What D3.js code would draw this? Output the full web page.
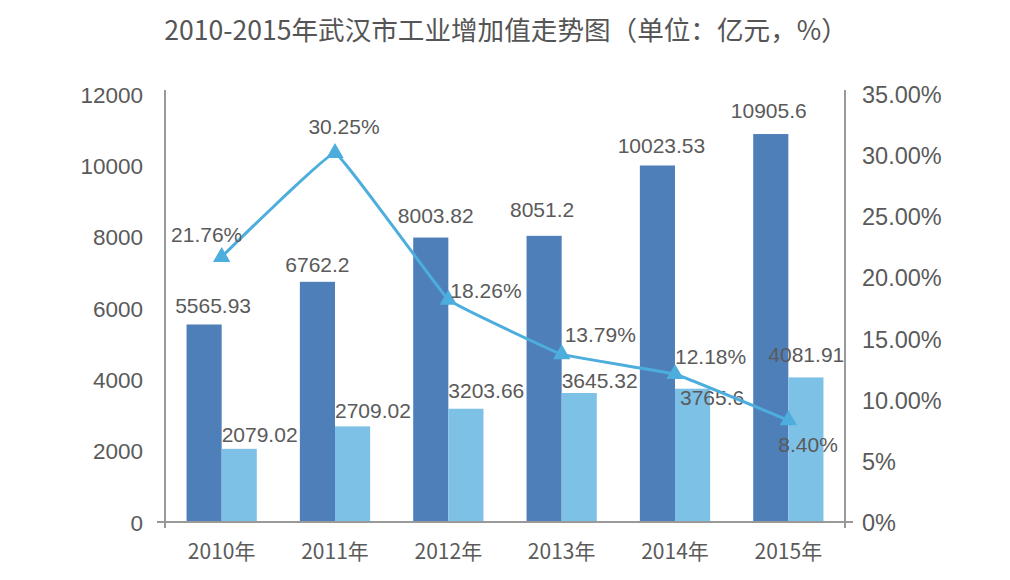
<!DOCTYPE html>
<html>
<head>
<meta charset="utf-8">
<script src="https://cdn.jsdelivr.net/npm/d3@7"></script>
<style>
  html, body { margin: 0; padding: 0; background: #fff; }
  svg { display: block; }
</style>
</head>
<body>
<svg id="chart" width="1010" height="580"></svg>
<script>
// ---- data ----
const years = ['2010年', '2011年', '2012年', '2013年', '2014年', '2015年'];
const valueA = [5565.93, 6762.2, 8003.82, 8051.2, 10023.53, 10905.6];
const valueB = [2079.02, 2709.02, 3203.66, 3645.32, 3765.6, 4081.91];
const growth = [21.76, 30.25, 18.26, 13.79, 12.18, 8.40];
const growthLabels = ['21.76%', '30.25%', '18.26%', '13.79%', '12.18%', '8.40%'];
const leftTicks = [0, 2000, 4000, 6000, 8000, 10000, 12000];
const rightTicks = [0, 5, 10, 15, 20, 25, 30, 35];
const rightTickLabels = ['0%', '5%', '10.00%', '15.00%', '20.00%', '25.00%', '30.00%', '35.00%'];
const title = '2010-2015年武汉市工业增加值走势图（单位：亿元，%）';

(function () {
// ---- layout ----
const svg = d3.select('#chart');
const pL = 165, pR = 845, pT = 95, pB = 523;
const textColor = '#5a5a5a';
const axisColor = '#999';
const darkColor = '#4f7fb9';
const lightColor = '#7ec1e7';
const lineColor = '#4daedd';
const numFont = '"Liberation Sans", Arial, sans-serif';

const x = d3.scaleBand().domain(years).range([pL, pR]).paddingInner(0.38).paddingOuter(0.19);
const sub = d3.scaleBand().domain(['A', 'B']).range([0, x.bandwidth()]);
const yL = d3.scaleLinear().domain([0, 12000]).range([pB, pT]);
const yR = d3.scaleLinear().domain([0, 35]).range([pB, pT]);

// title
svg.append('text')
  .attr('x', 506).attr('y', 40)
  .attr('text-anchor', 'middle')
  .attr('font-family', '"Noto Sans CJK SC", sans-serif')
  .attr('font-size', 26.6)
  .attr('fill', '#555')
  .text(title);

// bars
const g = svg.append('g');
g.selectAll('rect.a').data(valueA).join('rect')
  .attr('class', 'a')
  .attr('x', (d, i) => x(years[i]) + sub('A'))
  .attr('y', d => yL(d))
  .attr('width', sub.bandwidth())
  .attr('height', d => yL(0) - yL(d))
  .attr('fill', darkColor);
g.selectAll('rect.b').data(valueB).join('rect')
  .attr('class', 'b')
  .attr('x', (d, i) => x(years[i]) + sub('B'))
  .attr('y', d => yL(d))
  .attr('width', sub.bandwidth())
  .attr('height', d => yL(0) - yL(d))
  .attr('fill', lightColor);

// axes
const leftAxis = d3.axisLeft(yL).tickValues(leftTicks).tickSize(0).tickPadding(22).tickFormat(d => d);
const la = svg.append('g').attr('transform', `translate(${pL},0)`).call(leftAxis);
la.select('.domain').remove();
la.selectAll('text').attr('font-family', numFont).attr('font-size', 22.5).attr('fill', textColor);

const rightAxis = d3.axisRight(yR).tickValues(rightTicks).tickSize(0).tickPadding(17)
  .tickFormat((d, i) => rightTickLabels[i]);
const ra = svg.append('g').attr('transform', `translate(${pR},0)`).call(rightAxis);
ra.select('.domain').remove();
ra.selectAll('text').attr('font-family', numFont).attr('font-size', 23.5).attr('fill', textColor);

const xAxis = d3.axisBottom(x).tickSize(0).tickPadding(21);
const xa = svg.append('g').attr('transform', `translate(0,${pB})`).call(xAxis);
xa.select('.domain').remove();
xa.selectAll('text').attr('font-family', '"Noto Sans CJK SC", sans-serif').attr('font-size', 21).attr('fill', textColor);

// axis lines
svg.append('line').attr('x1', pL).attr('x2', pL).attr('y1', pT - 5).attr('y2', pB + 5)
  .attr('stroke', axisColor).attr('stroke-width', 2);
svg.append('line').attr('x1', pR).attr('x2', pR).attr('y1', pT - 5).attr('y2', pB + 5)
  .attr('stroke', axisColor).attr('stroke-width', 2);
svg.append('line').attr('x1', pL - 8).attr('x2', pR + 8).attr('y1', pB - 1).attr('y2', pB - 1)
  .attr('stroke', axisColor).attr('stroke-width', 2);

// bar labels
const aOff = [[9, -11], [0, -10], [5, -15], [-2, -19], [4, -12], [-2, -16]];
svg.selectAll('text.la').data(valueA).join('text')
  .attr('class', 'la')
  .attr('x', (d, i) => x(years[i]) + sub('A') + sub.bandwidth() / 2 + aOff[i][0])
  .attr('y', (d, i) => yL(d) + aOff[i][1])
  .attr('text-anchor', 'middle')
  .attr('font-family', numFont).attr('font-size', 21).attr('fill', textColor)
  .text(d => d);
const bOff = [[0, -7], [0, -8], [0, -11], [0, -5], [5, 16], [-20, -15]];
svg.selectAll('text.lb').data(valueB).join('text')
  .attr('class', 'lb')
  .attr('x', (d, i) => x(years[i]) + sub('B') + bOff[i][0])
  .attr('y', (d, i) => yL(d) + bOff[i][1])
  .attr('text-anchor', 'start')
  .attr('font-family', numFont).attr('font-size', 21).attr('fill', textColor)
  .text(d => d);

// growth line
const cx = i => x(years[i]) + x.bandwidth() / 2;
const line = d3.line().x((d, i) => cx(i)).y(d => yR(d)).curve(d3.curveCardinal.tension(0.82));
svg.append('path').datum(growth)
  .attr('d', line)
  .attr('fill', 'none')
  .attr('stroke', lineColor)
  .attr('stroke-width', 3);
svg.selectAll('path.m').data(growth).join('path')
  .attr('class', 'm')
  .attr('transform', (d, i) => `translate(${cx(i)},${yR(d)})`)
  .attr('d', d3.symbol().type(d3.symbolTriangle).size(130))
  .attr('fill', lineColor);

const gOff = [[-15, -15, 'middle'], [9, -19, 'middle'], [2, -2, 'start'], [3, -12, 'start'], [0, -10, 'start'], [-10, 32, 'start']];
svg.selectAll('text.lg').data(growth).join('text')
  .attr('class', 'lg')
  .attr('x', (d, i) => cx(i) + gOff[i][0])
  .attr('y', (d, i) => yR(d) + gOff[i][1])
  .attr('text-anchor', (d, i) => gOff[i][2])
  .attr('font-family', numFont).attr('font-size', 21).attr('fill', textColor)
  .text((d, i) => growthLabels[i]);
})();
</script>
</body>
</html>
